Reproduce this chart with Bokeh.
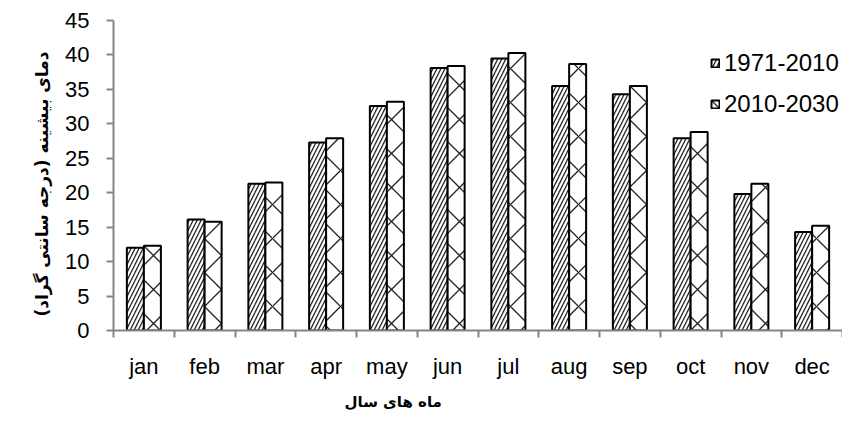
import numpy as np
from bokeh.plotting import figure
from bokeh.models import Range1d, FixedTicker, Legend, LegendItem, Title
from bokeh.embed import file_html
from bokeh.resources import INLINE

months = ["jan", "feb", "mar", "apr", "may", "jun", "jul", "aug", "sep", "oct", "nov", "dec"]
series_names = ["1971-2010", "2010-2030"]
t_1971_2010 = [12.0, 16.1, 21.3, 27.3, 32.6, 38.1, 39.5, 35.5, 34.3, 27.9, 19.8, 14.3]
t_2010_2030 = [12.3, 15.8, 21.5, 27.9, 33.2, 38.4, 40.3, 38.7, 35.5, 28.8, 21.3, 15.2]
y_ticks = [0, 5, 10, 15, 20, 25, 30, 35, 40, 45]
x_title = "ماه های سال"
y_title = "دمای بیشینه (درجه سانتی گراد)"

n = len(months)
centers = np.arange(n) + 0.5
bw = 0.28

AX = "#868686"
FONT = "Liberation Sans"

p = figure(width=842, height=420, output_backend="svg", toolbar_location=None,
           x_range=Range1d(0, n), y_range=Range1d(y_ticks[0], y_ticks[-1]),
           min_border_left=113, min_border_right=0, min_border_top=20, min_border_bottom=90)
p.outline_line_color = None
p.background_fill_color = "white"
p.border_fill_color = "white"
p.xgrid.grid_line_color = None
p.ygrid.grid_line_color = None

r1 = p.vbar(x=centers - bw / 2, top=t_1971_2010, width=bw, bottom=0,
            fill_color="white", line_color="black", line_width=2,
            hatch_pattern="/", hatch_color="#222222", hatch_weight=1.3, hatch_scale=8)
r2 = p.vbar(x=centers + bw / 2, top=t_2010_2030, width=bw, bottom=0,
            fill_color="white", line_color="black", line_width=2,
            hatch_pattern="x", hatch_color="#222222", hatch_weight=1.3, hatch_scale=34)

# x axis: labels at category centres, ticks at category boundaries
xa = p.xaxis[0]
xa.ticker = FixedTicker(ticks=list(centers), minor_ticks=list(range(n + 1)))
xa.major_label_overrides = {float(c): m for c, m in zip(centers, months)}
xa.major_tick_line_color = None
xa.major_tick_in = 0
xa.major_tick_out = 7
xa.minor_tick_in = 0
xa.minor_tick_out = 7
xa.minor_tick_line_color = AX
xa.minor_tick_line_width = 2
xa.axis_line_color = AX
xa.axis_line_width = 2
xa.major_label_standoff = 16
xa.major_label_text_font = FONT
xa.major_label_text_font_size = "22px"
xa.major_label_text_color = "black"

ya = p.yaxis[0]
ya.ticker = FixedTicker(ticks=y_ticks, minor_ticks=[])
ya.major_tick_in = 0
ya.major_tick_out = 7
ya.major_tick_line_color = AX
ya.major_tick_line_width = 2
ya.minor_tick_line_color = None
ya.axis_line_color = AX
ya.axis_line_width = 2
ya.major_label_standoff = 17
ya.major_label_text_font = FONT
ya.major_label_text_font_size = "22px"
ya.major_label_text_color = "black"

ty = Title(text=y_title, align="left", offset=14, text_font="DejaVu Sans",
           text_font_style="bold", text_font_size="17px", text_color="black", standoff=22)
p.add_layout(ty, "left")

t = Title(text=x_title, align="left", offset=231, text_font="DejaVu Sans",
          text_font_style="bold", text_font_size="15px", text_color="black", standoff=18)
p.add_layout(t, "below")

legend = Legend(items=[LegendItem(label=series_names[0], renderers=[r1]),
                       LegendItem(label=series_names[1], renderers=[r2])],
                location=(597, 212), orientation="vertical",
                glyph_width=10, glyph_height=10, label_standoff=4,
                label_text_font=FONT, label_text_font_size="24px", label_text_color="black",
                label_height=24, spacing=13, padding=0, margin=0,
                border_line_color=None, background_fill_alpha=0)
p.add_layout(legend)

open("out.html", "w").write(file_html(p, INLINE))
